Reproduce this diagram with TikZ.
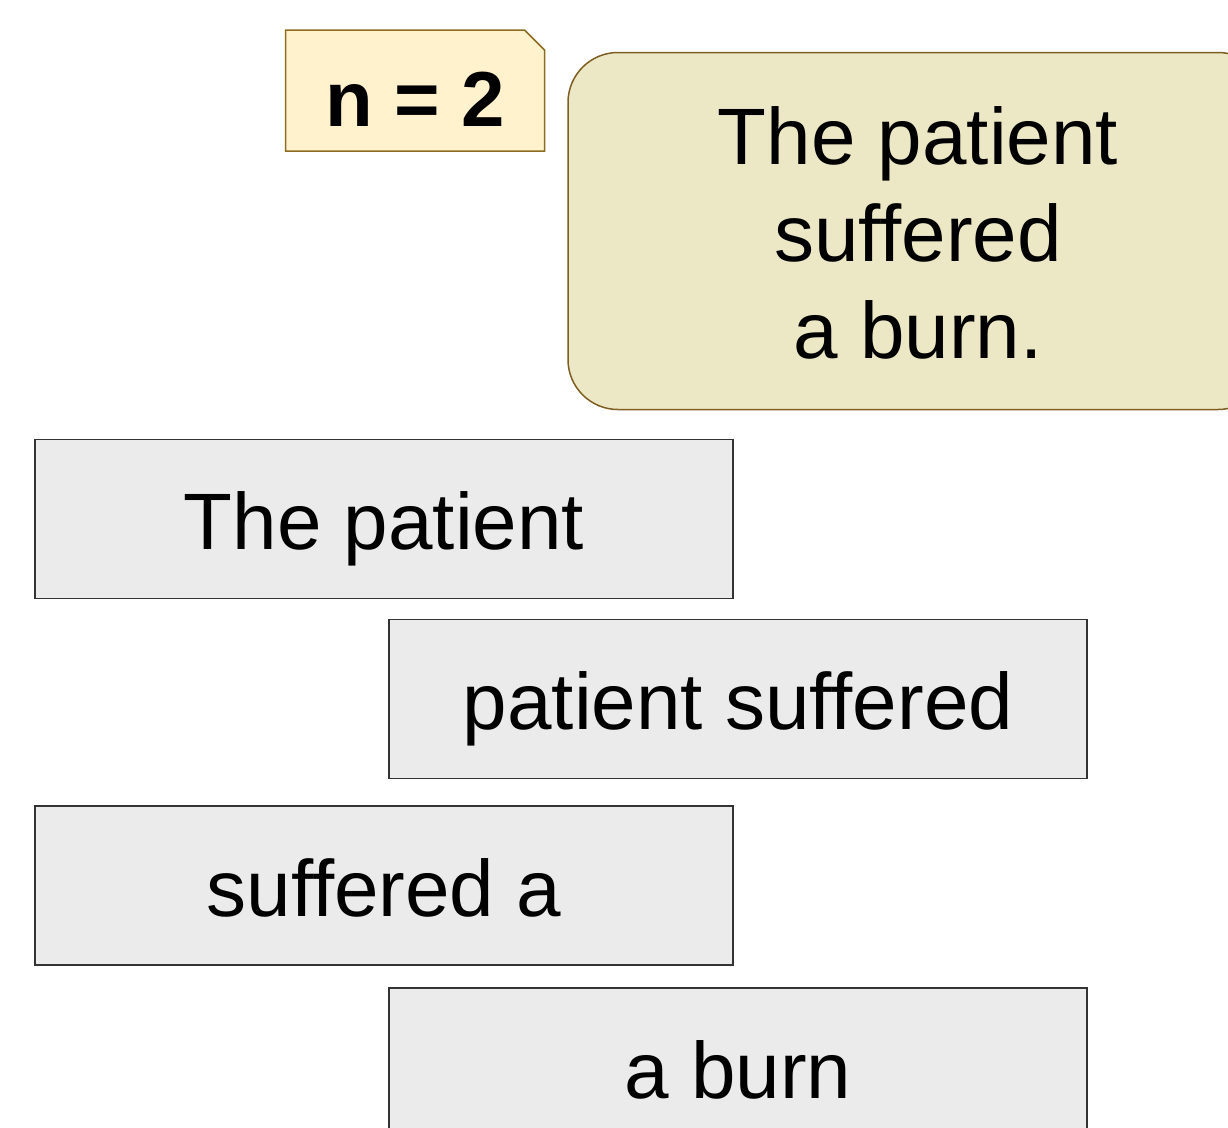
\documentclass[tikz,border=0pt]{standalone}
\usepackage{fontspec}
\setmainfont{Liberation Sans}
\usetikzlibrary{shapes.misc}

\definecolor{gramfill}{HTML}{EBEBEB}
\definecolor{gramline}{HTML}{333333}
\definecolor{sentfill}{HTML}{ECE8C6}
\definecolor{sentline}{HTML}{7F5E22}
\definecolor{tagfill}{HTML}{FFF2CC}
\definecolor{tagline}{HTML}{8C6D1F}

\begin{document}
\begin{tikzpicture}[x=1pt,y=-1pt,
gram/.style={rectangle, draw=gramline, fill=gramfill, line width=1.6pt, inner sep=0pt,
  minimum width=698pt, minimum height=159pt, text height=61pt, text depth=0pt,
  font=\fontsize{80}{97}\selectfont},
sentence/.style={rectangle, rounded corners=50pt, draw=sentline, fill=sentfill, line width=1.5pt,
  inner sep=0pt, minimum width=700pt, minimum height=357pt, align=center,
  font=\fontsize{80}{97}\selectfont},
tag/.style={chamfered rectangle, chamfered rectangle corners=north east,
  chamfered rectangle xsep=10pt, chamfered rectangle ysep=10pt,
  draw=tagline, fill=tagfill, line width=1.5pt, inner sep=0pt,
  minimum width=259pt, minimum height=121pt, text height=72pt, text depth=0pt,
  font=\fontsize{78}{90}\selectfont\bfseries}]

%% local variables
\def \left {384}
\def \right {738}

\useasboundingbox (0,0) rectangle (1228,1127);
\clip (0,0) rectangle (1228,1127);

%% order label and whole sentence
\node[tag] (N) at (415,90.5) {n = 2};
\node[sentence] (S) at (918,231) {\rule{0pt}{62pt}The patient\\suffered\\a burn.};

%% place all bigrams
\foreach \i/\x/\y/\txt in {1/\left/519/The patient, 2/\right/699/patient suffered,
                           3/\left/885.5/suffered a, 4/\right/1067.5/a burn}
      \node[gram] (G-\i) at (\x,\y) {\txt};

\end{tikzpicture}
\end{document}
